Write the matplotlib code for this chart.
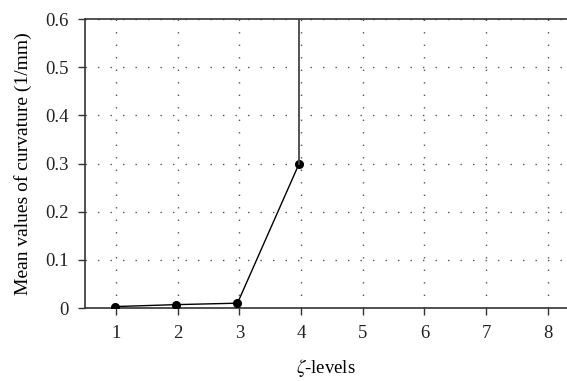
import matplotlib
matplotlib.use("Agg")
import matplotlib.pyplot as plt

# zeta-levels and mean curvature (1/mm)
levels = [0.99, 1.98, 2.97, 3.97]
curvature = [0.003, 0.007, 0.010, 0.300]
# the curve leaves the plot straight up after level 4
jump_x = [3.97, 3.97]
jump_y = [0.300, 1.0]

xticks = [1, 2, 3, 4, 5, 6, 7, 8]
yticks = [0, 0.1, 0.2, 0.3, 0.4, 0.5, 0.6]
yticklabels = ["0", "0.1", "0.2", "0.3", "0.4", "0.5", "0.6"]

plt.rcParams['font.family'] = ['Liberation Serif', 'DejaVu Serif']
plt.rcParams['mathtext.fontset'] = 'stix'
plt.rcParams['font.size'] = 13

fig = plt.figure(figsize=(5.67, 3.81), dpi=100)
ax = fig.add_axes([0.150, 0.1916, 0.85, 0.7585])

ax.plot(levels, curvature, color='black', linewidth=1.0, marker='o',
        markersize=5.5, zorder=3)
ax.plot(jump_x, jump_y, color='#444444', linewidth=1.3, zorder=3)

ax.set_xlim(0.5, 8.31)
ax.set_ylim(0, 0.6)
ax.set_xticks(xticks)
ax.set_yticks(yticks)
ax.set_yticklabels(yticklabels)

ax.grid(True, color='#555555', linewidth=1.0, linestyle=(0, (1, 8)))
ax.spines['right'].set_visible(False)
for s in ['left', 'bottom', 'top']:
    ax.spines[s].set_color('#333333')
    ax.spines[s].set_linewidth(1.2)
ax.tick_params(direction='out', length=5, width=1.0, colors='#333333',
               labelcolor='#222222', labelsize=13.5, pad=7)

ax.set_xlabel(r'$\zeta$-levels', fontsize=13.5, labelpad=11)
ax.set_ylabel('Mean values of curvature (1/mm)', fontsize=14, labelpad=9)

fig.savefig("out.png", dpi=100)
